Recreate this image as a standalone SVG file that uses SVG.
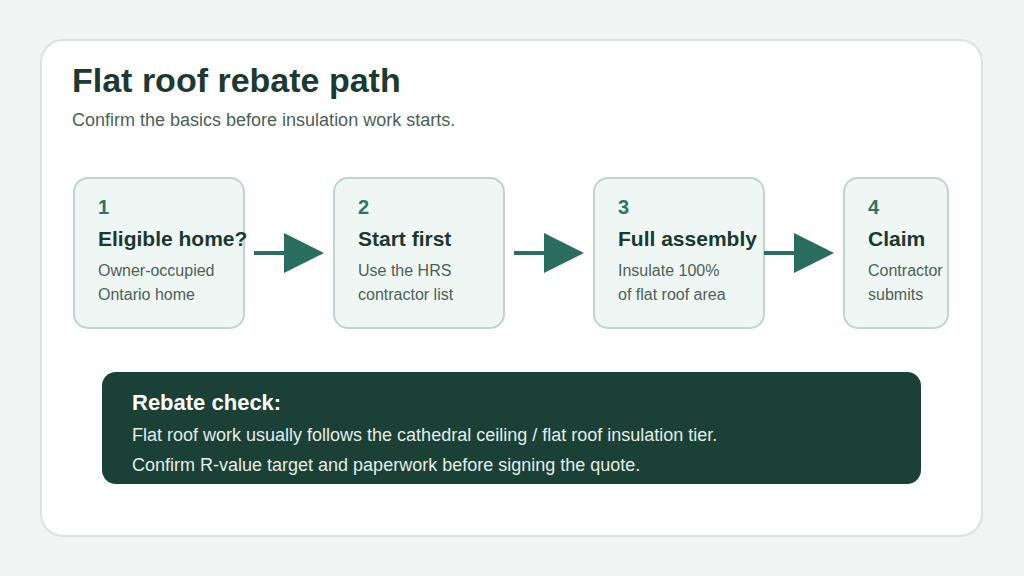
<svg xmlns="http://www.w3.org/2000/svg" width="1024" height="576" viewBox="0 0 1024 576">
<defs>
<style>
text{font-family:"Liberation Sans",Arial,sans-serif}
.node{fill:#eef7f3;stroke:#bcd6cc;stroke-width:2}
.num{font-size:20px;font-weight:bold;fill:#2e7464}
.ttl{font-size:21px;font-weight:bold;fill:#1a3831}
.dsc{font-size:16px;fill:#4d5f59}
.conn{stroke:#2a6e5f;stroke-width:4;fill:none}
.head{fill:#2a6e5f}
</style>
</defs>
<rect width="1024" height="576" fill="#f3f5f4"/>
<rect x="41" y="40" width="941" height="496" rx="22" fill="#ffffff" stroke="#dbe2df" stroke-width="2"/>
<text x="72" y="92" font-size="34" font-weight="bold" fill="#1b3a31">Flat roof rebate path</text>
<text x="72" y="126" font-size="18" fill="#4a5f58">Confirm the basics before insulation work starts.</text>
<g id="node1">
<rect class="node" x="74" y="178" width="170" height="150" rx="14"/>
<text class="num" x="98" y="214">1</text>
<text class="ttl" x="98" y="246">Eligible home?</text>
<text class="dsc" x="98" y="276">Owner-occupied</text>
<text class="dsc" x="98" y="300">Ontario home</text>
</g>
<g id="node2">
<rect class="node" x="334" y="178" width="170" height="150" rx="14"/>
<text class="num" x="358" y="214">2</text>
<text class="ttl" x="358" y="246">Start first</text>
<text class="dsc" x="358" y="276">Use the HRS</text>
<text class="dsc" x="358" y="300">contractor list</text>
</g>
<g id="node3">
<rect class="node" x="594" y="178" width="170" height="150" rx="14"/>
<text class="num" x="618" y="214">3</text>
<text class="ttl" x="618" y="246">Full assembly</text>
<text class="dsc" x="618" y="276">Insulate 100%</text>
<text class="dsc" x="618" y="300">of flat roof area</text>
</g>
<g id="node4">
<rect class="node" x="844" y="178" width="104" height="150" rx="14"/>
<text class="num" x="868" y="214">4</text>
<text class="ttl" x="868" y="246">Claim</text>
<text class="dsc" x="868" y="276">Contractor</text>
<text class="dsc" x="868" y="300">submits</text>
</g>
<g id="connectors">
<line class="conn" x1="254" y1="253" x2="288" y2="253"/>
<polygon class="head" points="284,233 324,253 284,273"/>
<line class="conn" x1="514" y1="253" x2="548" y2="253"/>
<polygon class="head" points="544,233 584,253 544,273"/>
<line class="conn" x1="764" y1="253" x2="798" y2="253"/>
<polygon class="head" points="794,233 834,253 794,273"/>
</g>
<g id="banner">
<rect x="102" y="372" width="819" height="112" rx="14" fill="#1b4036"/>
<text x="132" y="410" font-size="22" font-weight="bold" fill="#ffffff">Rebate check:</text>
<text x="132" y="441" font-size="18" fill="#e2eee9">Flat roof work usually follows the cathedral ceiling / flat roof insulation tier.</text>
<text x="132" y="471" font-size="18" fill="#e2eee9">Confirm R-value target and paperwork before signing the quote.</text>
</g>
</svg>
